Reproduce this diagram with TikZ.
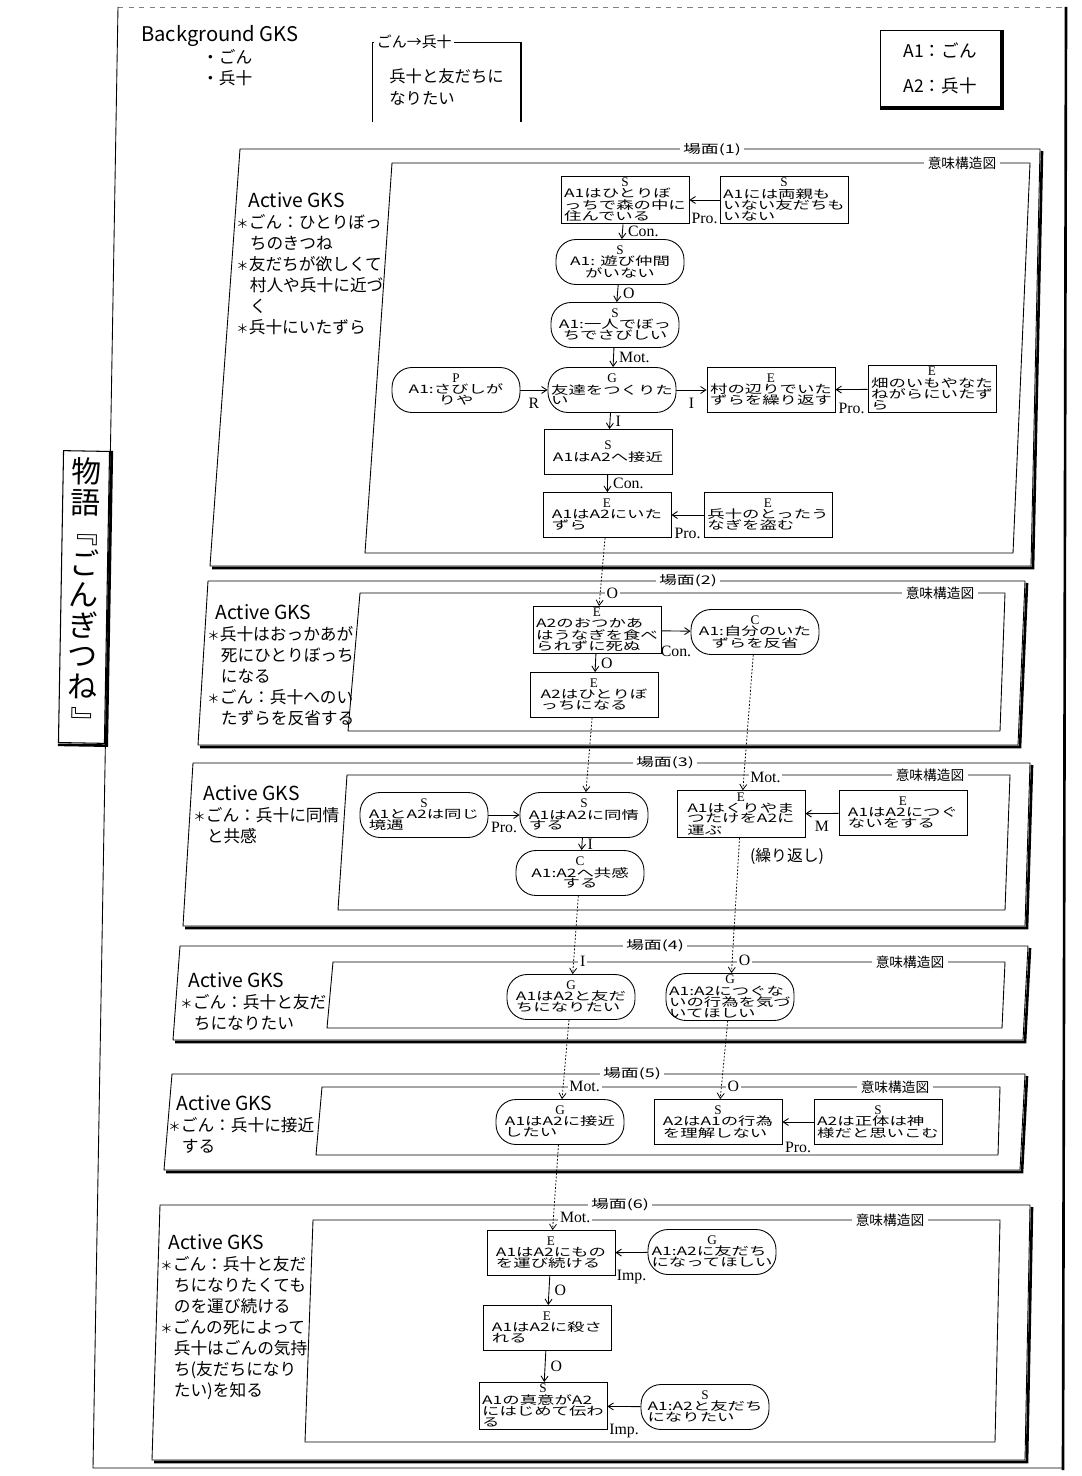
\documentclass[tikz,border=0pt]{standalone}
\usepackage{fontspec}
\setmainfont{Liberation Serif}
\newfontfamily\jp[FakeStretch=1.5]{Noto Sans CJK JP}
\newfontfamily\jpn{Noto Sans CJK JP}
\usetikzlibrary{arrows.meta, positioning}

% 意味構造図のノード中身：種別＋本文
\newcommand\evt[3][l]{{\rmfamily\fontsize{7.5}{6}\selectfont #2}\\{\renewcommand\arraystretch{0.5}\begin{tabular}{@{}#1@{}}#3\end{tabular}}}
\newcommand\kome{\makebox[0.25cm][l]{\fontsize{7}{7}\selectfont ＊}}

\tikzset{
    ev/.style={draw, line width=0.5pt, minimum width=2.56cm, minimum height=0.9cm, inner sep=1pt, align=center, font=\jp\fontsize{6.6}{6}\selectfont},
    evr/.style={ev, rounded corners=0.4cm},
    lbl/.style={font=\rmfamily\fontsize{9}{9}\selectfont, inner sep=1pt},
    hd/.style={lbl, fill=white, at end, anchor=west, xshift=3pt, yshift=0.26cm},
    ttl/.style={fill=white, inner sep=2pt, font=\jp\fontsize{6.8}{8}\selectfont},
    imi/.style={fill=white, inner sep=2pt, font=\jpn\fontsize{7.8}{9}\selectfont},
    gks/.style={anchor=north west, align=left, inner sep=0pt, font=\jpn\fontsize{9.5}{12}\selectfont},
    frm/.style={line width=0.5pt},
    shd/.style={line width=1.5pt},
    link/.style={->, dash pattern=on 1pt off 1pt, line width=0.45pt},
    arr/.style={->, line width=0.5pt},
}

\begin{document}
\begin{tikzpicture}[x=0.02cm, y=-0.02cm, >={Straight Barb[length=3pt,width=4pt]}]
\useasboundingbox (0,0) rectangle (1081,1476);

% 外枠
\draw[frm, gray, dashed] (118,7) -- (1066,7);
\draw[frm] (118,7) -- (93,1468) -- (1062,1468);
\draw[shd] (1066,7) -- (1063,1470);
\node[draw, line width=0.6pt, fill=white, rotate=-1, minimum width=0.92cm, minimum height=5.84cm, inner sep=2pt, align=center, font=\jpn\fontsize{17}{17.5}\selectfont] (story) at (84,597) {物\\語\\\rotatebox[origin=c]{-90}{『}\\ご\\ん\\ぎ\\つ\\ね\\\rotatebox[origin=c]{-90}{』}};
\draw[shd] ([xshift=1pt]story.north east) -- ([xshift=1pt, yshift=-1pt]story.south east) -- ([yshift=-1pt]story.south west);

% Background GKS
\node[anchor=west, font=\jpn\fontsize{11.5}{12}\selectfont] (bg) at (135,36) {Background GKS};
\node[anchor=west, font=\jpn\fontsize{9.5}{12}\selectfont] (bg1) at (196,57) {・ごん};
\node[anchor=west, font=\jpn\fontsize{9.5}{12}\selectfont] (bg2) at (196,78) {・兵十};

% ごん→兵十
\draw[frm] (372,122) -- (372,42) -- (520,42);
\draw[shd] (521,42) -- (521,122);
\node[fill=white, inner sep=1.5pt, anchor=west, font=\jpn\fontsize{8.5}{9}\selectfont] (rel) at (374,42) {ごん→兵十};
\node[anchor=north west, align=left, inner sep=0pt, font=\jpn\fontsize{9.3}{12.5}\selectfont] (want) at (389,68) {兵十と友だちに\\なりたい};

% 登場人物
\node[draw, frm, minimum width=2.4cm, minimum height=1.52cm, align=left, font=\jpn\fontsize{10}{20}\selectfont] (cast) at (940,68) {A1：ごん\\A2：兵十};
\draw[shd] ([xshift=1pt]cast.north east) -- ([xshift=1pt, yshift=-1pt]cast.south east) -- ([yshift=-1pt]cast.south west);

% 場面(1)
\begin{scope}
    % 枠
    \draw[frm] (240,149) -- (1040,149) -- (1031,566) -- (210,566) -- cycle;
    \draw[shd] (1042,151) -- (1033,568) -- (212,568);
    \draw[frm] (392,163) -- (1030,163) -- (1013,553) -- (365,553) -- cycle;
    \node[ttl] (t1) at (712,150) {場面(1)};
    \node[imi] (m1) at (962,163) {意味構造図};
    \node[gks] (g1) at (236,192) {\hspace*{0.24cm}{\fontsize{11}{12}\selectfont Active GKS}\\\kome ごん：ひとりぼっ\\\hspace*{0.27cm}ちのきつね\\\kome 友だちが欲しくて\\\hspace*{0.27cm}村人や兵十に近づ\\\hspace*{0.27cm}く\\\kome 兵十にいたずら};

    % ノード
    \node[ev] (s1a) at (625,200) {\evt{S}{A1はひとりぼ\\っちで森の中に\\住んでいる}};
    \node[ev] (s1b) at (784,200) {\evt{S}{A1には両親も\\いない友だちも\\いない}};
    \node[evr] (s1c) at (620,262) {\evt[c]{S}{A1: 遊び仲間\\がいない}};
    \node[evr] (s1d) at (615,325) {\evt[c]{S}{A1:一人でぼっ\\ちでさびしい}};
    \node[evr] (s1e) at (612,390) {\evt{G}{友達をつくりた\\い}};
    \node[evr] (s1p) at (456,390) {\evt[c]{P}{A1:さびしが\\りや}};
    \node[ev] (s1f) at (771,390) {\evt{E}{村の辺りでいた\\ずらを繰り返す}};
    \node[ev] (s1g) at (932,389) {\evt{E}{畑のいもやなた\\ねがらにいたず\\ら}};
    \node[ev] (s1h) at (608,452) {\evt[c]{S}{A1はA2へ接近}};
    \node[ev] (s1i) at (607,515) {\evt{E}{A1はA2にいた\\ずら}};
    \node[ev] (s1j) at (768,515) {\evt{E}{兵十のとったう\\なぎを盗む}};

    % 矢印
    \draw[arr] (s1b) -- (s1a) node[lbl, midway, below=0.22cm] {Pro.};
    \draw[arr] (s1a) -- (s1c) node[lbl, midway, right=2pt] {Con.};
    \draw[arr] (s1c) -- (s1d) node[lbl, midway, right=2pt] {O};
    \draw[arr] (s1d) -- (s1e) node[lbl, midway, right=2pt] {Mot.};
    \draw[arr] (s1p) -- (s1e) node[lbl, midway, below=0.12cm] {R};
    \draw[arr] (s1e) -- (s1f) node[lbl, midway, below=0.12cm] {I};
    \draw[arr] (s1g) -- (s1f) node[lbl, midway, below=0.22cm] {Pro.};
    \draw[arr] (s1e) -- (s1h) node[lbl, midway, right=2pt] {I};
    \draw[arr] (s1h) -- (s1i) node[lbl, midway, right=2pt] {Con.};
    \draw[arr] (s1j) -- (s1i) node[lbl, midway, below=0.22cm] {Pro.};
\end{scope}

% 場面(2)
\begin{scope}
    \draw[frm] (208,581) -- (1025,581) -- (1018,745) -- (198,745) -- cycle;
    \draw[shd] (1027,583) -- (1020,747) -- (200,747);
    \draw[frm] (360,593) -- (1005,593) -- (1000,731) -- (348,731) -- cycle;
    \node[ttl] (t2) at (688,581) {場面(2)};
    \node[imi] (m2) at (940,593) {意味構造図};
    \node[gks] (g2) at (207,604) {\hspace*{0.16cm}{\fontsize{11}{12}\selectfont Active GKS}\\\kome 兵十はおっかあが\\\hspace*{0.27cm}死にひとりぼっち\\\hspace*{0.27cm}になる\\\kome ごん：兵十へのい\\\hspace*{0.27cm}たずらを反省する};

    \node[ev] (s2a) at (597,630) {\evt{E}{A2のおつかあ\\はうなぎを食べ\\られずに死ぬ}};
    \node[evr] (s2c) at (755,632) {\evt[c]{C}{A1:自分のいた\\ずらを反省}};
    \node[ev] (s2b) at (594,695) {\evt{E}{A2はひとりぼ\\っちになる}};

    \draw[link] (s1i) -- (s2a) node[hd] {O};
    \draw[arr] (s2a) -- (s2b) node[lbl, midway, right=2pt] {O};
    \draw[arr] (s2a) -- (s2c) node[lbl, midway, below=0.25cm] {Con.};
\end{scope}

% 場面(3)
\begin{scope}
    \draw[frm] (193,763) -- (1030,763) -- (1025,926) -- (183,926) -- cycle;
    \draw[shd] (1032,765) -- (1027,928) -- (185,928);
    \draw[frm] (347,775) -- (1010,775) -- (1005,910) -- (338,910) -- cycle;
    \node[ttl] (t3) at (665,763) {場面(3)};
    \node[imi] (m3) at (930,775) {意味構造図};
    \node[gks] (g3) at (193,785) {\hspace*{0.2cm}{\fontsize{11}{12}\selectfont Active GKS}\\\kome ごん：兵十に同情\\\hspace*{0.27cm}と共感};

    \node[evr] (s3a) at (424,815) {\evt{S}{A1とA2は同じ\\境遇}};
    \node[evr] (s3b) at (584,815) {\evt{S}{A1はA2に同情\\する}};
    \node[evr] (s3c) at (580,873) {\evt[c]{C}{A1:A2へ共感\\する}};
    \node[ev] (s3d) at (741,814) {\evt{E}{A1はくりやま\\つたけをA2に\\運ぶ}};
    \node[ev] (s3e) at (903,813) {\evt{E}{A1はA2につぐ\\ないをする}};
    \node[font=\jpn\fontsize{9}{10}\selectfont] (rep) at (787,856) {(繰り返し)};

    \draw[link] (s2b) -- (s3b);
    \draw[link] (s2c) -- (s3d) node[hd] {Mot.};
    \draw[arr] (s3a) -- (s3b) node[lbl, midway, below=0.1cm] {Pro.};
    \draw[arr] (s3b) -- (s3c) node[lbl, midway, right=2pt] {I};
    \draw[arr] (s3e) -- (s3d) node[lbl, midway, below=0.1cm] {M};
\end{scope}

% 場面(4)
\begin{scope}
    \draw[frm] (180,946) -- (1028,946) -- (1023,1040) -- (173,1040) -- cycle;
    \draw[shd] (1030,948) -- (1025,1042) -- (175,1042);
    \draw[frm] (333,962) -- (1005,962) -- (1002,1028) -- (327,1028) -- cycle;
    \node[ttl] (t4) at (655,946) {場面(4)};
    \node[imi] (m4) at (910,962) {意味構造図};
    \node[gks] (g4) at (180,972) {\hspace*{0.16cm}{\fontsize{11}{12}\selectfont Active GKS}\\\kome ごん：兵十と友だ\\\hspace*{0.27cm}ちになりたい};

    \node[evr] (s4a) at (571,997) {\evt{G}{A1はA2と友だ\\ちになりたい}};
    \node[evr] (s4b) at (730,997) {\evt{G}{A1:A2につぐな\\いの行為を気づ\\いてほしい}};

    \draw[link] (s3c) -- (s4a) node[hd] {I};
    \draw[link] (s3d) -- (s4b) node[hd] {O};
\end{scope}

% 場面(5)
\begin{scope}
    \draw[frm] (172,1074) -- (1025,1074) -- (1020,1170) -- (164,1170) -- cycle;
    \draw[shd] (1027,1076) -- (1022,1172) -- (166,1172);
    \draw[frm] (322,1087) -- (1000,1087) -- (998,1155) -- (316,1155) -- cycle;
    \node[ttl] (t5) at (632,1074) {場面(5)};
    \node[imi] (m5) at (895,1087) {意味構造図};
    \node[gks] (g5) at (168,1095) {\hspace*{0.16cm}{\fontsize{11}{12}\selectfont Active GKS}\\\kome ごん：兵十に接近\\\hspace*{0.27cm}する};

    \node[evr] (s5a) at (560,1122) {\evt{G}{A1はA2に接近\\したい}};
    \node[ev] (s5b) at (718,1122) {\evt{S}{A2はA1の行為\\を理解しない}};
    \node[ev] (s5c) at (878,1122) {\evt{S}{A2は正体は神\\様だと思いこむ}};

    \draw[link] (s4a) -- (s5a) node[hd] {Mot.};
    \draw[link] (s4b) -- (s5b) node[hd] {O};
    \draw[arr] (s5c) -- (s5b) node[lbl, midway, below=0.35cm] {Pro.};
\end{scope}

% 場面(6)
\begin{scope}
    \draw[frm] (160,1205) -- (1030,1205) -- (1025,1460) -- (152,1460) -- cycle;
    \draw[shd] (1032,1207) -- (1027,1462) -- (154,1462);
    \draw[frm] (313,1220) -- (1000,1220) -- (995,1442) -- (305,1442) -- cycle;
    \node[ttl] (t6) at (620,1205) {場面(6)};
    \node[imi] (m6) at (890,1220) {意味構造図};
    \node[gks] (g6) at (160,1234) {\hspace*{0.16cm}{\fontsize{11}{12}\selectfont Active GKS}\\\kome ごん：兵十と友だ\\\hspace*{0.27cm}ちになりたくても\\\hspace*{0.27cm}のを運び続ける\\\kome ごんの死によって\\\hspace*{0.27cm}兵十はごんの気持\\\hspace*{0.27cm}ち(友だちになり\\\hspace*{0.27cm}たい)を知る};

    \node[ev] (s6a) at (551,1253) {\evt{E}{A1はA2にもの\\を運び続ける}};
    \node[evr] (s6b) at (712,1252) {\evt{G}{A1:A2に友だち\\になってほしい}};
    \node[ev] (s6c) at (547,1328) {\evt{E}{A1はA2に殺さ\\れる}};
    \node[ev] (s6d) at (543,1406) {\evt{S}{A1の真意がA2\\にはじめて伝わ\\る}};
    \node[evr] (s6e) at (705,1407) {\evt{S}{A1:A2と友だち\\になりたい}};

    \draw[link] (s5a) -- (s6a) node[hd] {Mot.};
    \draw[arr] (s6b) -- (s6a) node[lbl, midway, below=0.3cm] {Imp.};
    \draw[arr] (s6a) -- (s6c) node[lbl, midway, right=2pt] {O};
    \draw[arr] (s6c) -- (s6d) node[lbl, midway, right=2pt] {O};
    \draw[arr] (s6e) -- (s6d) node[lbl, midway, below=0.3cm] {Imp.};
\end{scope}

\end{tikzpicture}
\end{document}
